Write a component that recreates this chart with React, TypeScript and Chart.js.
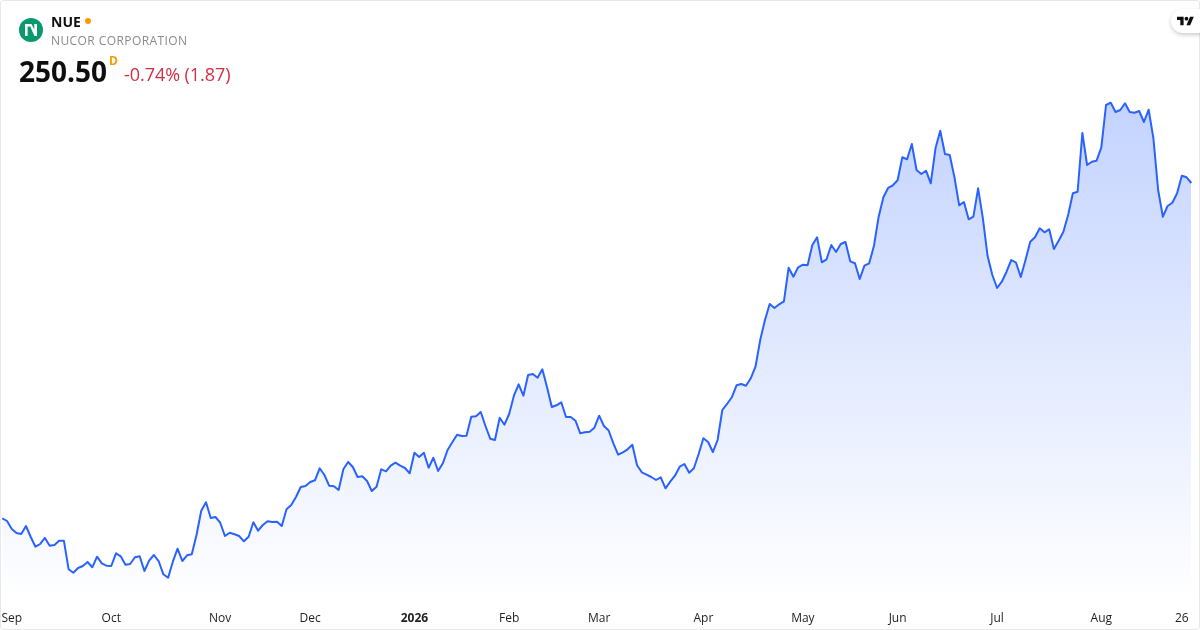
import React, { useEffect, useRef } from "react";
import { Chart, registerables } from "chart.js";

Chart.register(...registerables);

const prices = [
  140.52, 139.63, 137.01, 135.7, 135.37, 137.99, 134.38, 131.2, 132.09, 134.06,
  131.53, 131.76, 133.17, 133.17, 123.79, 122.67, 124.22, 124.87, 126.18, 124.45,
  127.92, 125.76, 124.97, 124.87, 129.04, 128.05, 125.3, 125.53, 127.73, 128.05,
  123.23, 126.61, 128.48, 126.51, 122.15, 121.03, 126.28, 130.55, 126.51, 128.38,
  128.71, 135.04, 143.01, 145.77, 140.62, 140.94, 139.07, 134.71, 135.79, 135.27,
  134.71, 132.97, 134.48, 139.21, 136.45, 138.32, 139.53, 139.3, 139.4, 137.99,
  143.47, 144.88, 147.5, 150.78, 151.11, 152.42, 152.98, 156.92, 154.72, 151.21,
  151.01, 149.8, 156.59, 158.98, 157.34, 154.06, 154.29, 152.75, 149.47, 150.88,
  156.59, 155.93, 157.77, 158.75, 157.77, 157.02, 155.28, 162.03, 160.62, 162.03,
  157.11, 160.39, 156.03, 158.56, 162.92, 165.45, 167.94, 167.51, 167.61, 173.84,
  173.97, 175.38, 170.79, 166.63, 166.2, 173.51, 171.22, 174.73, 180.73, 184.47,
  180.73, 187.52, 187.85, 186.63, 189.39, 183.49, 177.02, 177.58, 178.57, 173.74,
  173.74, 172.53, 168.4, 168.73, 168.92, 170.23, 174.17, 170.79, 169.32, 165.12,
  161.38, 162.17, 163.15, 164.66, 157.9, 155.61, 154.82, 154.06, 153.08, 153.97,
  150.36, 152.52, 154.49, 157.44, 158.33, 155.47, 156.92, 161.61, 166.76, 165.54,
  162.26, 166.2, 176.04, 178.01, 180.21, 184.14, 184.57, 184.01, 186.44, 190.24,
  199.0, 205.56, 210.81, 209.5, 210.71, 211.69, 222.71, 219.76, 222.85, 223.7,
  223.5, 230.16, 232.69, 224.49, 225.47, 230.16, 227.86, 230.49, 231.14, 224.81,
  224.16, 219.01, 223.37, 224.16, 229.83, 239.44, 245.81, 248.86, 249.74, 251.38,
  258.93, 258.27, 263.29, 254.76, 253.45, 254.53, 250.4, 261.88, 267.65, 260.01,
  259.68, 252.37, 243.18, 244.26, 238.59, 239.44, 248.76, 238.92, 226.55, 220.32,
  216.06, 218.12, 221.4, 225.24, 224.35, 219.66, 225.24, 231.24, 232.69, 235.64,
  234.33, 235.31, 228.85, 231.57, 234.52, 240.0, 247.12, 247.64, 266.9, 256.4,
  257.48, 257.81, 262.07, 276.08, 276.83, 273.78, 274.44, 276.64, 273.78, 273.55,
  274.11, 270.5, 274.54, 265.16, 248.2, 239.44, 242.95, 244.03, 247.12, 252.89,
  252.37, 250.5,
];

const tickLabels = ["Sep", "Oct", "Nov", "Dec", "2026", "Feb", "Mar", "Apr", "May", "Jun", "Jul", "Aug", "26"];
const tickPositions = [2, 23, 46, 65, 87, 107, 126, 148, 169, 189, 210, 232, 249];

const categories = prices.map((_, i) => {
  const at = tickPositions.indexOf(i);
  return at >= 0 ? tickLabels[at] : "";
});

const FONT = '"Open Sans", "Noto Sans", sans-serif';

export default function App() {
  const ref = useRef<HTMLCanvasElement | null>(null);

  useEffect(() => {
    document.body.style.margin = "0";
    document.body.style.background = "#fff";
    const chart = new Chart(ref.current!, {
      type: "line",
      data: {
        labels: categories,
        datasets: [
          {
            data: prices,
            borderColor: "#2962ff",
            borderWidth: 2,
            borderJoinStyle: "round",
            pointRadius: 0,
            tension: 0,
            fill: "start",
            backgroundColor: (ctx: any) => {
              const g = ctx.chart.ctx.createLinearGradient(0, 100, 0, 600);
              g.addColorStop(0, "rgba(41,98,255,0.28)");
              g.addColorStop(1, "rgba(41,98,255,0)");
              return g;
            },
          },
        ],
      },
      options: {
        responsive: false,
        animation: false,
        layout: { padding: { left: 2.3, right: 8.7, top: 0, bottom: 0 } },
        plugins: { legend: { display: false }, tooltip: { enabled: false } },
        scales: {
          x: {
            type: "category",
            offset: false,
            grid: { display: false, drawTicks: false },
            border: { display: false },
            afterFit: (s: any) => {
              s.height = 30;
              s.paddingLeft = 0;
              s.paddingRight = 0;
            },
            ticks: {
              autoSkip: false,
              maxRotation: 0,
              minRotation: 0,
              padding: 11,
              color: "#1f1f1f",
              font: (ctx: any) => ({
                family: FONT,
                size: 12,
                weight: ctx.tick && ctx.tick.label === "2026" ? "bold" : "normal",
              }),
            },
          },
          y: { display: false, min: 113.72, max: 310.52 },
        },
      },
    } as any);
    return () => chart.destroy();
  }, []);

  const abs: React.CSSProperties = { position: "absolute", whiteSpace: "nowrap", fontFamily: FONT };

  return (
    <div style={{ position: "relative", width: 1200, height: 630, overflow: "hidden", background: "#fff" }}>
      <canvas ref={ref} width={1200} height={630} style={{ display: "block" }} />
      <div
        style={{
          position: "absolute",
          inset: 0,
          boxSizing: "border-box",
          border: "1px solid #e8e8e8",
          borderRadius: 3,
          pointerEvents: "none",
        }}
      />
      <svg style={{ position: "absolute", left: 19, top: 18 }} width={24} height={24} viewBox="0 0 24 24">
        <circle cx={12} cy={12} r={12} fill="#089a6c" />
        <path d="M6 18V6h6.500l2.800 5.500V6H18v12h-2.600L11.300 8.600H8.600V18Z" fill="#fff" />
      </svg>
      <div style={{ ...abs, left: 51, top: 12, fontSize: 14, lineHeight: "19px", fontWeight: 700, color: "#0f0f0f" }}>NUE</div>
      <svg style={{ position: "absolute", left: 85, top: 18 }} width={6} height={6}>
        <circle cx={3} cy={3} r={3} fill="#ff9800" />
      </svg>
      <div style={{ ...abs, left: 51, top: 32, fontSize: 12, lineHeight: "17px", letterSpacing: "0.42px", color: "#8a8a8a" }}>NUCOR CORPORATION</div>
      <div style={{ ...abs, left: 19, top: 52, fontSize: 28, lineHeight: "38px", fontWeight: 700, color: "#0f0f0f" }}>250.50</div>
      <div style={{ ...abs, left: 109, top: 53, fontSize: 12, lineHeight: "16px", fontWeight: 700, color: "#ff9800" }}>D</div>
      <div style={{ ...abs, left: 124, top: 62, fontSize: 18, lineHeight: "25px", letterSpacing: "-0.05px", color: "#d12f44" }}>-0.74% (1.87)</div>
      <div
        style={{
          position: "absolute",
          left: 1171,
          top: 9,
          width: 40,
          height: 24,
          borderRadius: 12,
          background: "#fff",
          boxShadow: "0 2px 4px rgba(0,0,0,0.2)",
        }}
      />
      <svg style={{ position: "absolute", left: 1177, top: 15.5 }} width={17} height={10} viewBox="0 4 36 18">
        <path d="M14 22H7V11H0V4h14v18ZM28 22h-8l7.500-18h8L28 22Z" fill="#0f0f0f" />
        <circle cx={20} cy={8} r={4} fill="#0f0f0f" />
      </svg>
    </div>
  );
}
